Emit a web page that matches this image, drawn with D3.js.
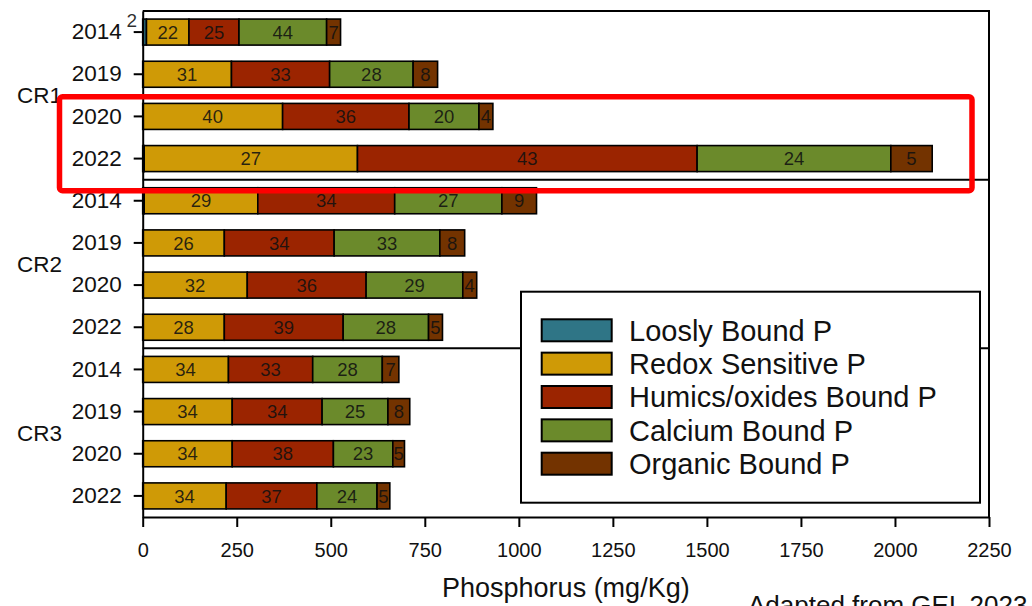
<!DOCTYPE html>
<html>
<head>
<meta charset="utf-8">
<script src="https://cdn.jsdelivr.net/npm/d3@7"></script>
<style>
  html, body { margin: 0; padding: 0; background: #fff; }
  svg { display: block; font-family: "Liberation Sans", Arial, sans-serif; }
</style>
</head>
<body>
<svg id="chart" width="1032" height="606"></svg>
<script>
// ---------------- DATA ----------------
const groups = ["CR1", "CR2", "CR3"];
const years = ["2014", "2019", "2020", "2022"];
const series = ["Loosly Bound P", "Redox Sensitive P", "Humics/oxides Bound P", "Calcium Bound P", "Organic Bound P"];
// mg/Kg per row (CR1 2014..2022, CR2 2014..2022, CR3 2014..2022)
const loosely = [10, 0, 0, 4, 4, 0, 0, 0, 0, 0, 0, 0];
const redox   = [113, 236, 372, 567, 302, 217, 278, 217, 228, 238, 238, 222];
const humics  = [133, 261, 336, 903, 364, 292, 316, 316, 224, 239, 269, 241];
const calcium = [233, 222, 186, 515, 285, 281, 257, 227, 185, 175, 158, 160];
const organic = [37, 65, 37, 110, 92, 66, 37, 37, 44, 58, 31, 34];
// percentage labels
const looselyPct = [2, null, null, null, null, null, null, null, null, null, null, null];
const redoxPct   = [22, 31, 40, 27, 29, 26, 32, 28, 34, 34, 34, 34];
const humicsPct  = [25, 33, 36, 43, 34, 34, 36, 39, 33, 34, 38, 37];
const calciumPct = [44, 28, 20, 24, 27, 33, 29, 28, 28, 25, 23, 24];
const organicPct = [7, 8, 4, 5, 9, 8, 4, 5, 7, 8, 5, 5];
const xTicks = [0, 250, 500, 750, 1000, 1250, 1500, 1750, 2000, 2250];
const xTitle = "Phosphorus (mg/Kg)";
const sourceNote = "Adapted from GEL 2023";
const colors = ["#2f7586", "#cf9a06", "#9b2400", "#6b8a2b", "#733300"];

// ---------------- BUILD ----------------
const valuesBySeries = [loosely, redox, humics, calcium, organic];
const pctBySeries = [looselyPct, redoxPct, humicsPct, calciumPct, organicPct];
const rows = [];
groups.forEach((g, gi) => years.forEach((yr, yi) => {
  const i = gi * years.length + yi;
  const r = { key: g + "|" + yr, group: g, year: yr, idx: i };
  series.forEach((s, si) => { r[s] = valuesBySeries[si][i]; });
  rows.push(r);
}));

const svg = d3.select("#chart");
const x = d3.scaleLinear().domain([0, 2250]).range([142.7, 989]);
const y = d3.scaleBand().domain(rows.map(r => r.key)).range([11, 517])
  .paddingInner(0.383).paddingOuter(0.1915);

const stacked = d3.stack().keys(series)(rows);

// separators between groups
const step = y.step();
for (let g = 1; g < groups.length; g++) {
  const k = rows[g * years.length].key;
  const yy = y(k) - step * y.paddingInner() / 2;
  svg.append("line").attr("x1", x(0)).attr("x2", x(2250))
    .attr("y1", yy).attr("y2", yy).attr("stroke", "#000").attr("stroke-width", 2);
}

// bars
const layers = svg.append("g").selectAll("g").data(stacked).join("g")
  .attr("fill", (d, i) => colors[i]);
layers.selectAll("rect").data(d => d.filter(p => p[1] - p[0] > 0)).join("rect")
  .attr("x", p => x(p[0]))
  .attr("y", p => y(p.data.key))
  .attr("width", p => x(p[1]) - x(p[0]))
  .attr("height", y.bandwidth())
  .attr("stroke", "#000").attr("stroke-width", 1.6);

// segment labels
stacked.forEach((layer, si) => {
  layer.forEach(p => {
    const lab = pctBySeries[si][p.data.idx];
    if (lab == null) return;
    const x0 = x(p[0]), x1 = x(p[1]);
    const w = x1 - x0;
    const yc = y(p.data.key) + y.bandwidth() / 2;
    const t = svg.append("text").text(lab)
      .attr("font-size", 18.5).attr("fill", "#111").attr("fill-opacity", 0.88)
      .attr("text-anchor", "middle");
    if (w < 8) {
      t.attr("x", x0 - 11).attr("y", y(p.data.key) + 8).attr("font-size", 19);
    } else {
      t.attr("x", (x0 + x1) / 2).attr("y", yc).attr("dy", "0.36em");
    }
  });
});

// axes
const xAxis = svg.append("g").attr("transform", `translate(0,517)`)
  .call(d3.axisBottom(x).tickValues(xTicks).tickFormat(d3.format("d"))
    .tickSize(10).tickSizeOuter(0).tickPadding(16));
xAxis.selectAll("text").attr("font-size", 20).attr("fill", "#111").attr("font-family", "'Liberation Sans', Arial, sans-serif");
xAxis.selectAll("line").attr("stroke-width", 2);
xAxis.select(".domain").attr("stroke-width", 2);

const yAxis = svg.append("g").attr("transform", `translate(${x(0)},0)`)
  .call(d3.axisLeft(y).tickSize(9).tickSizeOuter(0).tickPadding(12).tickFormat(k => k.split("|")[1]));
yAxis.selectAll("text").attr("font-size", 22.5).attr("fill", "#111").attr("font-family", "'Liberation Sans', Arial, sans-serif");
yAxis.selectAll("line").attr("stroke-width", 2);
yAxis.select(".domain").attr("stroke-width", 2);

// frame top/right
svg.append("path").attr("d", `M${x(0)},11H${x(2250)}V517`)
  .attr("fill", "none").attr("stroke", "#000").attr("stroke-width", 2);

// group labels
groups.forEach((g, gi) => {
  const k1 = rows[gi * years.length].key, k2 = rows[gi * years.length + years.length - 1].key;
  const yc = (y(k1) + y(k2) + y.bandwidth()) / 2;
  svg.append("text").text(g).attr("x", 17).attr("y", yc).attr("dy", "0.36em")
    .attr("font-size", 22.5).attr("fill", "#111");
});

// legend
const lg = svg.append("g");
lg.append("rect").attr("x", 521).attr("y", 291.7).attr("width", 459).attr("height", 211)
  .attr("fill", "#fff").attr("stroke", "#000").attr("stroke-width", 2);
series.forEach((s, i) => {
  const yt = 319.3 + i * 33.35;
  lg.append("rect").attr("x", 541.7).attr("y", yt).attr("width", 70).attr("height", 22)
    .attr("fill", colors[i]).attr("stroke", "#000").attr("stroke-width", 2);
  lg.append("text").text(s).attr("x", 629).attr("y", yt + 11).attr("dy", "0.36em")
    .attr("font-size", 29).attr("fill", "#111");
});

// axis title
svg.append("text").text(xTitle).attr("x", (x(0) + x(2250)) / 2).attr("y", 597)
  .attr("text-anchor", "middle").attr("font-size", 27).attr("fill", "#111");

// source note (cut off at bottom, as in the reference)
svg.append("text").text(sourceNote).attr("x", 748).attr("y", 614)
  .attr("font-size", 26).attr("fill", "#111");

// red highlight box
svg.append("rect").attr("x", 59.5).attr("y", 96.8).attr("width", 912.5).attr("height", 94)
  .attr("rx", 3).attr("fill", "none").attr("stroke", "#ff0000").attr("stroke-width", 5.5);
</script>
</body>
</html>
